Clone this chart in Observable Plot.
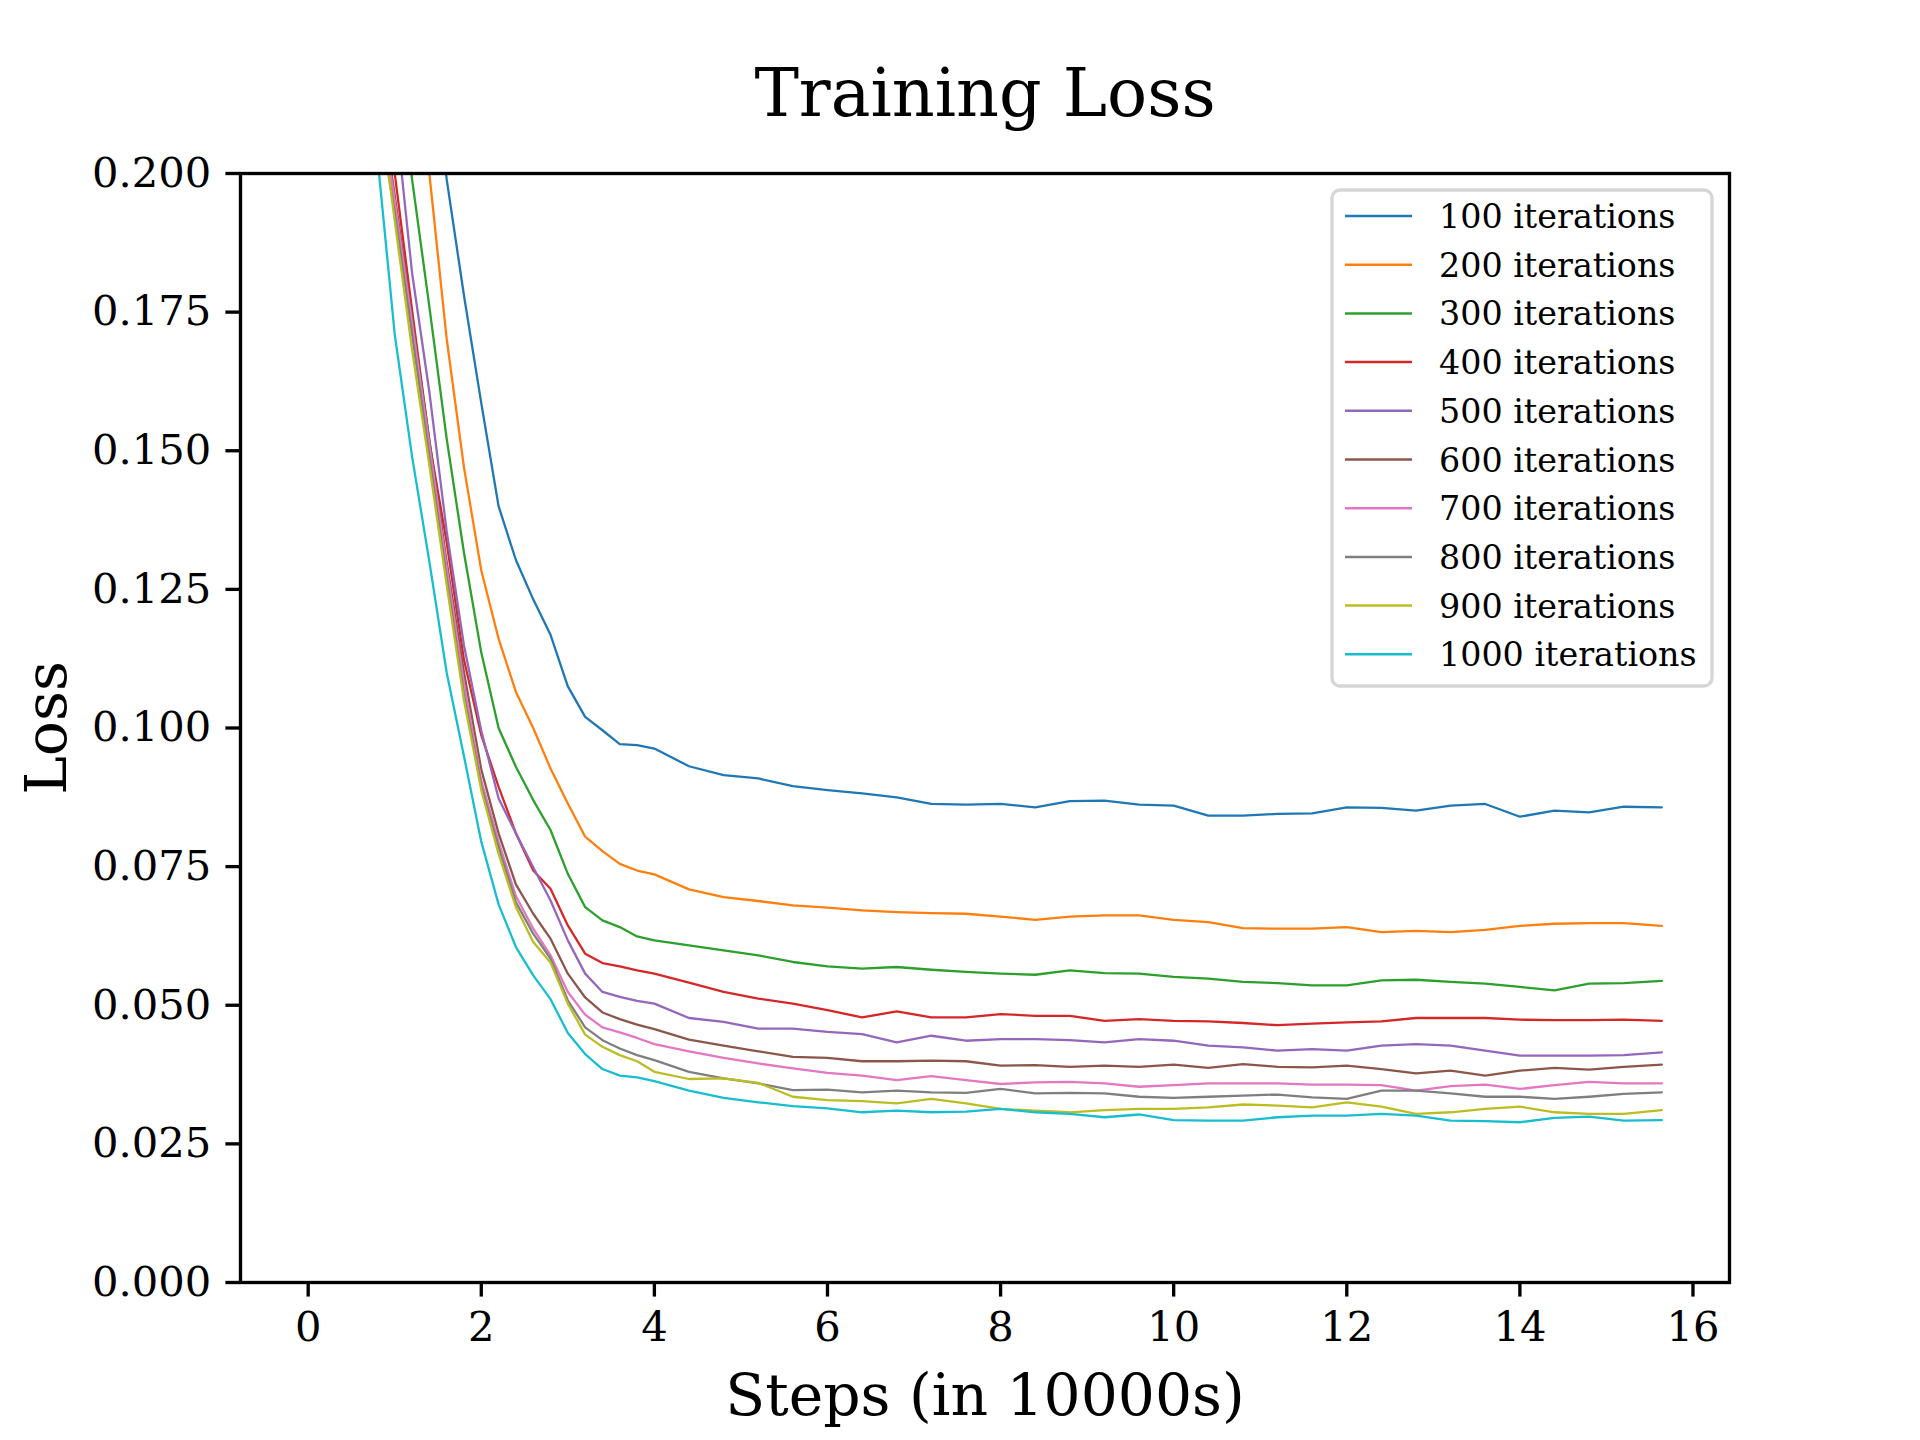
<!DOCTYPE html>
<html>
<head>
<meta charset="utf-8">
<script src="https://cdn.jsdelivr.net/npm/d3@7"></script>
<script src="https://cdn.jsdelivr.net/npm/@observablehq/plot@0.6"></script>
<style>
  html, body { margin: 0; padding: 0; background: #ffffff; overflow: hidden; }
  #chart svg { display: block; }
</style>
</head>
<body>
<div id="chart"></div>
<script>
// ---- data ----
const steps = [0, 0.4, 0.8, 1.0, 1.2, 1.4, 1.6, 1.8, 2.0, 2.2, 2.4, 2.6, 2.8, 3.0, 3.2, 3.4, 3.6, 3.8, 4.0,
  4.4, 4.8, 5.2, 5.6, 6.0, 6.4, 6.8, 7.2, 7.6, 8.0, 8.4, 8.8, 9.2, 9.6, 10.0, 10.4, 10.8, 11.2, 11.6, 12.0,
  12.4, 12.8, 13.2, 13.6, 14.0, 14.4, 14.8, 15.2, 15.64];

const seriesNames = ["100 iterations", "200 iterations", "300 iterations", "400 iterations", "500 iterations",
  "600 iterations", "700 iterations", "800 iterations", "900 iterations", "1000 iterations"];

const seriesColors = ["#1f77b4", "#ff7f0e", "#2ca02c", "#d62728", "#9467bd",
  "#8c564b", "#e377c2", "#7f7f7f", "#bcbd22", "#17becf"];

const loss100 = [0.45, 0.38, 0.32, 0.285, 0.255, 0.225, 0.199, 0.178, 0.1586, 0.140, 0.1303, 0.1232, 0.1168, 0.1075, 0.1020, 0.0996, 0.0971, 0.0969, 0.0963,
  0.0931, 0.0915, 0.0909, 0.0895, 0.0888, 0.0882, 0.0875, 0.0863, 0.0862, 0.0863, 0.0857, 0.0868, 0.0869, 0.0862, 0.0860, 0.0842, 0.0842, 0.0845, 0.0846, 0.0857,
  0.0856, 0.0851, 0.0860, 0.0863, 0.0840, 0.0851, 0.0848, 0.0858, 0.0857];

const loss200 = [0.42, 0.35, 0.29, 0.258, 0.228, 0.200, 0.1702, 0.1470, 0.1284, 0.1161, 0.1065, 0.1000, 0.0927, 0.0864, 0.0804, 0.0778, 0.0755, 0.0743, 0.0736,
  0.0709, 0.0695, 0.0688, 0.0680, 0.0676, 0.0671, 0.0668, 0.0666, 0.0665, 0.0660, 0.0654, 0.0660, 0.0662, 0.0662, 0.0654, 0.0650, 0.0639, 0.0638, 0.0638, 0.0641,
  0.0632, 0.0634, 0.0632, 0.0636, 0.0643, 0.0647, 0.0648, 0.0648, 0.0643];

const loss300 = [0.40, 0.33, 0.26, 0.228, 0.199, 0.176, 0.1522, 0.1316, 0.1136, 0.1000, 0.0930, 0.0870, 0.0816, 0.0737, 0.0677, 0.0653, 0.0641, 0.0624, 0.0617,
  0.0608, 0.0599, 0.0590, 0.0578, 0.0570, 0.0566, 0.0569, 0.0564, 0.0560, 0.0557, 0.0555, 0.0563, 0.0558, 0.0557, 0.0551, 0.0548, 0.0542, 0.0540, 0.0536, 0.0536,
  0.0545, 0.0546, 0.0542, 0.0539, 0.0533, 0.0527, 0.0539, 0.0540, 0.0544];

const loss400 = [0.38, 0.31, 0.235, 0.200, 0.1754, 0.1516, 0.1335, 0.1123, 0.0987, 0.0894, 0.0810, 0.0743, 0.0710, 0.0644, 0.0593, 0.0576, 0.0570, 0.0563, 0.0557,
  0.0541, 0.0524, 0.0512, 0.0503, 0.0491, 0.0478, 0.0489, 0.0478, 0.0478, 0.0484, 0.0481, 0.0481, 0.0472, 0.0475, 0.0472, 0.0471, 0.0468, 0.0464, 0.0467, 0.0469,
  0.0471, 0.0477, 0.0477, 0.0477, 0.0474, 0.0473, 0.0473, 0.0474, 0.0472];

const loss500 = [0.37, 0.30, 0.23, 0.212, 0.1821, 0.1606, 0.1355, 0.1149, 0.0995, 0.0873, 0.0810, 0.0749, 0.0689, 0.0617, 0.0557, 0.0524, 0.0515, 0.0508, 0.0503,
  0.0477, 0.0470, 0.0458, 0.0458, 0.0452, 0.0448, 0.0433, 0.0445, 0.0436, 0.0439, 0.0439, 0.0437, 0.0433, 0.0439, 0.0436, 0.0427, 0.0424, 0.0418, 0.0421, 0.0418,
  0.0427, 0.0430, 0.0427, 0.0418, 0.0409, 0.0409, 0.0409, 0.0410, 0.0415];

const loss600 = [0.36, 0.29, 0.218, 0.196, 0.174, 0.152, 0.130, 0.110, 0.0925, 0.0810, 0.0718, 0.0665, 0.0620, 0.0557, 0.0514, 0.0487, 0.0475, 0.0465, 0.0457,
  0.0438, 0.0427, 0.0417, 0.0407, 0.0405, 0.0399, 0.0399, 0.0400, 0.0399, 0.0391, 0.0392, 0.0389, 0.0391, 0.0389, 0.0393, 0.0387, 0.0394, 0.0389, 0.0388, 0.0391,
  0.0385, 0.0377, 0.0382, 0.0373, 0.0382, 0.0387, 0.0384, 0.0389, 0.0393];

const loss700 = [0.35, 0.28, 0.216, 0.195, 0.173, 0.151, 0.129, 0.108, 0.0905, 0.0795, 0.0697, 0.0638, 0.0590, 0.0524, 0.0483, 0.0460, 0.0451, 0.0441, 0.0430,
  0.0417, 0.0405, 0.0395, 0.0386, 0.0378, 0.0373, 0.0365, 0.0372, 0.0365, 0.0358, 0.0361, 0.0362, 0.0359, 0.0353, 0.0356, 0.0359, 0.0359, 0.0359, 0.0357, 0.0357,
  0.0356, 0.0346, 0.0354, 0.0357, 0.0349, 0.0356, 0.0362, 0.0359, 0.0359];

const loss800 = [0.34, 0.27, 0.212, 0.193, 0.171, 0.149, 0.127, 0.106, 0.0895, 0.0785, 0.0686, 0.0629, 0.0584, 0.0509, 0.0460, 0.0437, 0.0422, 0.0410, 0.0401,
  0.0380, 0.0368, 0.0359, 0.0347, 0.0348, 0.0343, 0.0346, 0.0343, 0.0342, 0.0349, 0.0341, 0.0342, 0.0341, 0.0335, 0.0333, 0.0335, 0.0337, 0.0339, 0.0334, 0.0331,
  0.0346, 0.0346, 0.0341, 0.0335, 0.0335, 0.0331, 0.0335, 0.0340, 0.0343];

const loss900 = [0.33, 0.26, 0.215, 0.1915, 0.1683, 0.1474, 0.1258, 0.105, 0.0888, 0.0773, 0.0677, 0.0614, 0.0577, 0.0503, 0.0447, 0.0425, 0.0410, 0.0399, 0.0380,
  0.0367, 0.0368, 0.0360, 0.0335, 0.0329, 0.0327, 0.0323, 0.0331, 0.0323, 0.0313, 0.0310, 0.0307, 0.0311, 0.0313, 0.0313, 0.0316, 0.0321, 0.0319, 0.0316, 0.0325,
  0.0317, 0.0304, 0.0307, 0.0313, 0.0317, 0.0307, 0.0304, 0.0304, 0.0311];

const loss1000 = [0.32, 0.25, 0.203, 0.171, 0.149, 0.130, 0.110, 0.0949, 0.0795, 0.0682, 0.0605, 0.0554, 0.0511, 0.0450, 0.0412, 0.0385, 0.0373, 0.0370, 0.0363,
  0.0346, 0.0333, 0.0325, 0.0318, 0.0314, 0.0307, 0.0310, 0.0307, 0.0308, 0.0313, 0.0307, 0.0304, 0.0298, 0.0303, 0.0293, 0.0292, 0.0292, 0.0298, 0.0301, 0.0301,
  0.0304, 0.0301, 0.0292, 0.0291, 0.0289, 0.0297, 0.0299, 0.0292, 0.0293];

const xTicks = [0, 2, 4, 6, 8, 10, 12, 14, 16];
const yTicks = [0, 0.025, 0.05, 0.075, 0.1, 0.125, 0.15, 0.175, 0.2];

const titleText = "Training Loss";
const xLabel = "Steps (in 10000s)";
const yLabel = "Loss";

// ---- table for the library ----
const lossSeries = [loss100, loss200, loss300, loss400, loss500, loss600, loss700, loss800, loss900, loss1000];
const table = [];
lossSeries.forEach((vals, i) => {
  vals.forEach((v, j) => table.push({series: seriesNames[i], step: steps[j], loss: v}));
});

// ---- layout (matplotlib-like, 1920x1440 at 300 dpi) ----
const W = 1920, H = 1440;
const mL = 240, mR = 191, mT = 173, mB = 158;
const pt = 300 / 72;
const serif = "'DejaVu Serif', serif";

const chart = Plot.plot({
  width: W,
  height: H,
  marginLeft: mL,
  marginRight: mR,
  marginTop: mT,
  marginBottom: mB,
  style: {fontFamily: serif, background: "#ffffff", color: "#000000", overflow: "visible"},
  x: {domain: [-0.782, 16.422], label: null},
  y: {domain: [0, 0.2], label: null},
  color: {domain: seriesNames, range: seriesColors},
  marks: [
    Plot.line(table, {x: "step", y: "loss", z: "series", stroke: "series",
      strokeWidth: 0.55 * pt, strokeLinejoin: "round", clip: true}),
    Plot.frame({stroke: "#000000", strokeWidth: 0.8 * pt}),
    Plot.axisX({ticks: xTicks, tickFormat: d => String(d), tickSize: 3.5 * pt, tickPadding: 3.5 * pt,
      fontSize: 10 * pt, strokeWidth: 0.8 * pt, label: null}),
    Plot.axisY({ticks: yTicks, tickFormat: d3.format(".3f"), tickSize: 3.5 * pt, tickPadding: 3.5 * pt,
      fontSize: 10 * pt, strokeWidth: 0.8 * pt, label: null}),
    Plot.text([titleText], {text: d => d, frameAnchor: "top", dy: -(mT - 115), lineAnchor: "bottom",
      textAnchor: "middle", fontSize: 16 * pt, fill: "#000000"}),
    Plot.text([xLabel], {text: d => d, frameAnchor: "bottom", dy: 1414 - (H - mB), lineAnchor: "bottom",
      textAnchor: "middle", fontSize: 14 * pt, fill: "#000000"}),
    Plot.text([yLabel], {text: d => d, frameAnchor: "left", dx: -(mL - 65), rotate: -90, lineAnchor: "bottom",
      textAnchor: "middle", fontSize: 14 * pt, fill: "#000000"})
  ]
});

document.getElementById("chart").appendChild(chart);

// ---- legend (matplotlib style, upper right) ----
const svg = d3.select(chart);
const fs = 8 * pt;
const legX0 = 1332, legY0 = 190, legX1 = 1712, legY1 = 686;
const legend = svg.append("g").attr("class", "legend").attr("text-anchor", "start");
legend.append("rect")
  .attr("x", legX0).attr("y", legY0)
  .attr("width", legX1 - legX0).attr("height", legY1 - legY0)
  .attr("rx", 8).attr("ry", 8)
  .attr("fill", "#ffffff").attr("fill-opacity", 0.8)
  .attr("stroke", "#d6d6d6").attr("stroke-width", 0.8 * pt);
const rowY = i => 216 + i * 48.7;
seriesNames.forEach((name, i) => {
  legend.append("line")
    .attr("x1", 1345).attr("x2", 1412)
    .attr("y1", rowY(i)).attr("y2", rowY(i))
    .attr("stroke", seriesColors[i]).attr("stroke-width", 0.6 * pt);
  legend.append("text")
    .attr("x", 1439).attr("y", rowY(i))
    .attr("dy", "0.36em")
    .attr("text-anchor", "start")
    .attr("font-family", serif).attr("font-size", fs)
    .attr("fill", "#000000")
    .text(name);
});
</script>
</body>
</html>
